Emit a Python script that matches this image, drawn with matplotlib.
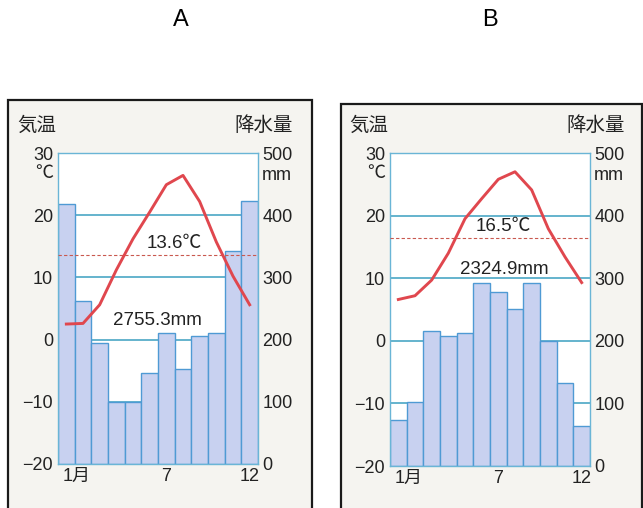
import numpy as np
import matplotlib
matplotlib.use('Agg')
import matplotlib.pyplot as plt
from matplotlib.patches import Rectangle
from matplotlib.transforms import offset_copy, ScaledTranslation

plt.rcParams['font.family'] = ['Liberation Sans', 'Noto Sans CJK JP', 'DejaVu Sans']

months = np.arange(1, 13)
month_ticks = [1, 7, 12]
month_labels = ['1月', '7', '12']

temp_a = [2.5, 2.6, 5.6, 11.2, 16.2, 20.5, 24.9, 26.4, 22.2, 15.7, 10.2, 5.6]
rain_a = [418, 262, 194, 100, 100, 146, 210, 152, 206, 211, 343, 423]
temp_b = [6.6, 7.2, 9.7, 14.0, 19.5, 22.7, 25.8, 27.0, 24.1, 17.9, 13.4, 9.3]
rain_b = [74, 102, 215, 208, 212, 293, 278, 251, 293, 199, 133, 64]
mean_a, total_a = 13.6, 2755.3
mean_b, total_b = 16.5, 2324.9

temp_ticks = [30, 20, 10, 0, -10, -20]
rain_ticks = [500, 400, 300, 200, 100, 0]

W, H = 643, 508
BAR = '#c8d1f0'
EDGE = '#4f9ad4'
GRID = '#3a9fc0'
SPINE = '#6ab5d6'
RED = '#e0474e'
BG = '#f5f4f0'
INK = '#222222'


def px(x, y, w, h):
    # pixel box (top-left origin) -> figure fraction
    return [x / W, 1 - (y + h) / H, w / W, h / H]


def climograph(fig, frame, box, title_x, temps, rains, mean, total, mean_xy, total_xy, title):
    fx, fy, fw = frame
    fig.add_artist(Rectangle((fx / W, -0.05), fw / W, 1 - fy / H + 0.05,
                             transform=fig.transFigure, facecolor=BG,
                             edgecolor='#1a1a1a', lw=1.6, zorder=0))
    fig.text(title_x / W, 1 - 20 / H, title, ha='center', va='center', fontsize=17)

    ax = fig.add_axes(px(*box))
    ax.set_facecolor('white')
    ax.bar(months, rains, width=1.0, color=BAR, edgecolor=EDGE, lw=1.0, zorder=2)
    for v in rain_ticks[1:-1]:
        ax.axhline(v, color=GRID, lw=1.1, zorder=1)
    ax.set_xlim(0.5, 12.5)
    ax.set_ylim(0, 500)
    ax.set_xticks(month_ticks, month_labels)

    tx = ax.twinx()
    tx.set_ylim(-20, 30)

    # twinx moves the host ticks left, so set sides afterwards
    ax.yaxis.tick_right()
    tx.yaxis.tick_left()
    ax.set_yticks(rain_ticks, [str(v) for v in rain_ticks])
    tx.set_yticks(temp_ticks, [str(v).replace('-', '\u2212') for v in temp_ticks])

    ax.tick_params(length=0, labelsize=13, colors=INK)
    ax.tick_params(axis='y', pad=3)
    ax.tick_params(axis='x', pad=3)
    tx.tick_params(length=0, labelsize=13, pad=3.6, colors=INK)
    lab = ax.get_xticklabels()[0]
    lab.set_ha('left')
    lab.set_transform(lab.get_transform() + ScaledTranslation(-4 / 100, 0, fig.dpi_scale_trans))
    for sp in ax.spines.values():
        sp.set_color(SPINE)
        sp.set_linewidth(1.0)
    for sp in tx.spines.values():
        sp.set_visible(False)

    tx.plot(months, temps, color=RED, lw=2.1, zorder=3)
    tx.axhline(mean, color='#c9594f', lw=0.8, ls=(0, (3, 2)), zorder=2)
    tx.text(mean_xy[0], mean_xy[1], f'{mean}℃', ha='center', va='center', fontsize=13.5, color=INK)
    tx.text(total_xy[0], total_xy[1], f'{total}mm', ha='center', va='center', fontsize=13.5, color=INK)

    tx.text(0, 1, '℃', transform=offset_copy(ax.transAxes, fig, x=-5, y=-21, units='dots'),
            ha='right', va='center', fontsize=13, color=INK)
    tx.text(1, 1, 'mm', transform=offset_copy(ax.transAxes, fig, x=4, y=-22, units='dots'),
            ha='left', va='center', fontsize=13, color=INK)
    tx.text(0, 1, '気温', transform=offset_copy(ax.transAxes, fig, x=-41, y=27, units='dots'),
            ha='left', va='center', fontsize=14, color=INK)
    tx.text(1, 1, '降水量', transform=offset_copy(ax.transAxes, fig, x=35, y=27, units='dots'),
            ha='right', va='center', fontsize=14, color=INK)


fig = plt.figure(figsize=(W / 100, H / 100), dpi=100)
fig.patch.set_facecolor('white')

climograph(fig, (8, 100, 304), (58, 153, 200, 311), 181, temp_a, rain_a,
           mean_a, total_a, (7.49, 15.5), (6.47, 3.0), 'A')
climograph(fig, (341, 104, 301), (390, 153, 200, 313), 490, temp_b, rain_b,
           mean_b, total_b, (7.28, 18.2), (7.34, 11.45), 'B')

fig.savefig('out.png', dpi=100)
